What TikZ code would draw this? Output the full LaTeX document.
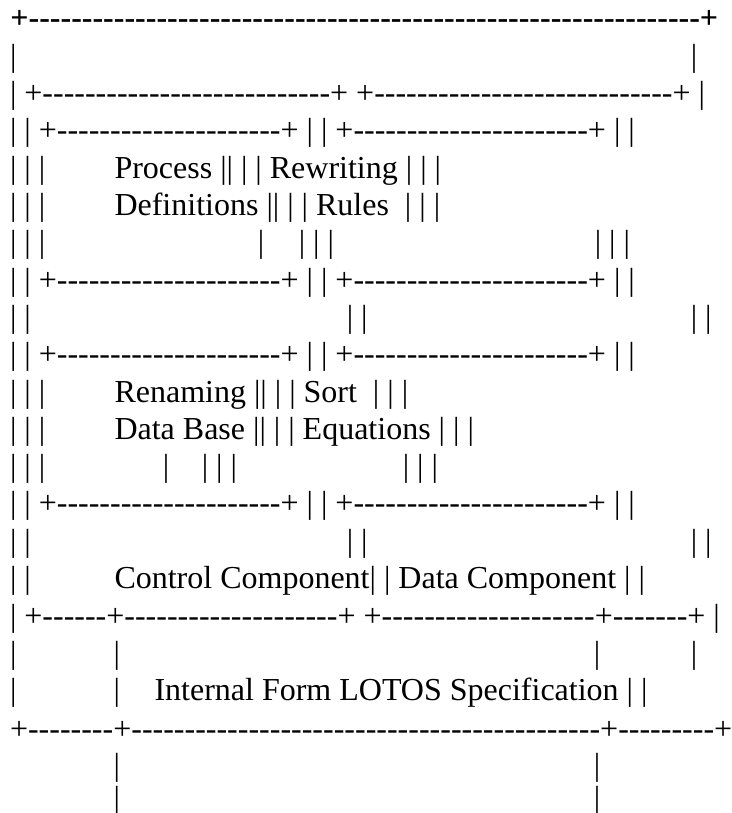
\documentclass[tikz,border=0pt]{standalone}
\usepackage{fontspec}
\newfontfamily\tm{Liberation Serif}
\newcommand\D[1]{\foreach\q in {1,...,#1}{-\kern0pt}}
\tikzset{
  t/.style={anchor=base west, inner sep=0pt, outer sep=0pt, font=\tm\fontsize{32}{37}\selectfont},
  tb/.style={t, font=\tm\bfseries\fontsize{32}{37}\selectfont}
}
\begin{document}
\begin{tikzpicture}[x=1pt,y=-1pt]
\useasboundingbox (0,0) rectangle (731,813);
\fill[white] (0,0) rectangle (731,813);
% line 1
\node[tb] (l1a) at (10.4,29) {+\D{63}+};
% line 2
\node[t] (l2a) at (10,66.3) {|};
\node[t] (l2b) at (690.8,66.3) {|};
% line 3
\node[t] (l3a) at (10,103.6) {| +\D{27}+ +\D{28}+ |};
% line 4
\node[t] (l4a) at (10,140.9) {| | +\D{21}+ | | +\D{22}+ | |};
% line 5
\node[t] (l5a) at (10,178.2) {| | |};
\node[t] (l5b) at (114.5,178.2) {Process || | | Rewriting | | |};
% line 6
\node[t] (l6a) at (10,215.5) {| | |};
\node[t] (l6b) at (114.5,215.5) {Definitions || | | Rules~ | | |};
% line 7
\node[t] (l7a) at (10,252.8) {| | |};
\node[t] (l7b) at (257.8,252.8) {|};
\node[t] (l7c) at (298.8,252.8) {| | |};
\node[t] (l7d) at (594.8,252.8) {| | |};
% line 8
\node[t] (l8a) at (10,290.1) {| | +\D{21}+ | | +\D{22}+ | |};
% line 9
\node[t] (l9a) at (10,327.4) {| |};
\node[t] (l9b) at (346.8,327.4) {| |};
\node[t] (l9c) at (690.8,327.4) {| |};
% line 10
\node[t] (l10a) at (10,364.7) {| | +\D{21}+ | | +\D{22}+ | |};
% line 11
\node[t] (l11a) at (10,402) {| | |};
\node[t] (l11b) at (114.5,402) {Renaming || | | Sort~ | | |};
% line 12
\node[t] (l12a) at (10,439.3) {| | |};
\node[t] (l12b) at (114.5,439.3) {Data Base || | | Equations | | |};
% line 13
\node[t] (l13a) at (10,476.6) {| | |};
\node[t] (l13b) at (162.8,476.6) {|};
\node[t] (l13c) at (201.8,476.6) {| | |};
\node[t] (l13d) at (402.8,476.6) {| | |};
% line 14
\node[t] (l14a) at (10,513.9) {| | +\D{21}+ | | +\D{22}+ | |};
% line 15
\node[t] (l15a) at (10,551.2) {| |};
\node[t] (l15b) at (346.8,551.2) {| |};
\node[t] (l15c) at (690.8,551.2) {| |};
% line 16
\node[t] (l16a) at (10,588.5) {| |};
\node[t] (l16b) at (114.5,588.5) {Control Component| | Data Component | |};
% line 17
\node[t] (l17a) at (10,626.5) {| +\D{6}+\D{20}+ +\D{20}+\D{7}+ |};
% line 18
\node[t] (l18a) at (10,663.1) {|};
\node[t] (l18b) at (113.5,663.1) {|};
\node[t] (l18c) at (593.8,663.1) {|};
\node[t] (l18d) at (690.8,663.1) {|};
% line 19
\node[t] (l19a) at (10,700.4) {|};
\node[t] (l19b) at (113.5,700.4) {|};
\node[t] (l19c) at (154.5,700.4) {Internal Form LOTOS Specification | |};
% line 20
\node[t] (l20a) at (10,739) {+\D{8}+\D{44}+\D{9}+};
% line 21
\node[t] (l21a) at (113.5,775) {|};
\node[t] (l21b) at (593.8,775) {|};
% line 22
\node[t] (l22a) at (113.5,808) {|};
\node[t] (l22b) at (593.8,808) {|};
\end{tikzpicture}
\end{document}
